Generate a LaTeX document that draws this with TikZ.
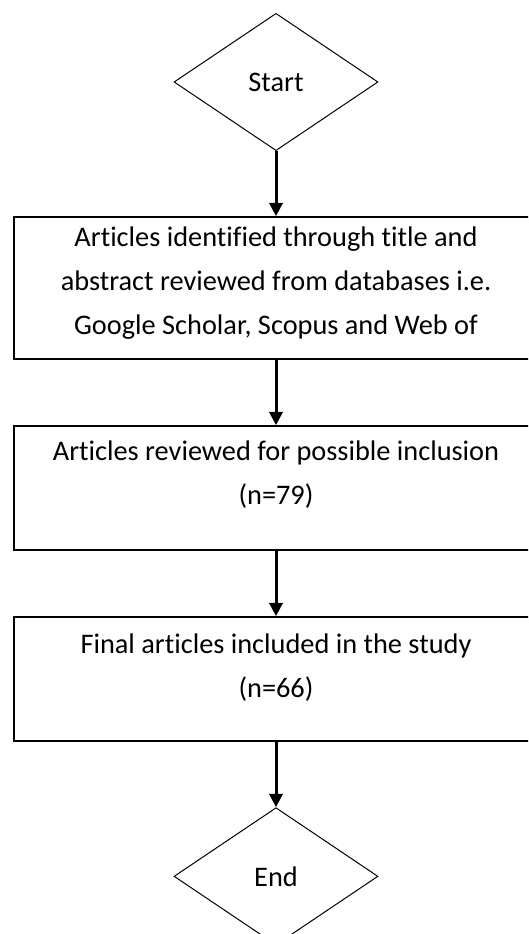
\documentclass[tikz,border=0pt]{standalone}
\usepackage{fontspec}
\setmainfont[Ligatures=NoCommon]{Carlito}
\usetikzlibrary{chains,shapes.geometric,arrows.meta}

\begin{document}
\begin{tikzpicture}[x=0.75pt,y=0.75pt]
% \tikzstyle{every path}=[thick]

\tikzstyle{flowterm}=[diamond,draw,line width=0.75pt,minimum width=153pt,
minimum height=103pt,inner sep=0pt]
\tikzstyle{flowbox}=[draw,line width=1.5pt,minimum width=393pt,align=center,
inner sep=0pt]
\tikzstyle{flowarrow}=[-{Triangle[length=10pt,width=10pt]},line width=2.25pt]

\fontsize{21.25}{33}\selectfont

\useasboundingbox (0,0) rectangle (528,934);
\clip (0,0) rectangle (528,934);

%% Draw the steps of the review
\begin{scope}[start chain=1 going below,node distance=48.75pt]
    \node [on chain=1,flowterm] at (276,852) (start) {Start};
    \node [on chain=1,flowbox,text height=87.75pt,text depth=18.75pt] (ident)
        {Articles identified through title and\\
         abstract reviewed from databases i.e.\\
         Google Scholar, Scopus and Web of};
    \node [on chain=1,flowbox,text height=58.5pt,text depth=34.5pt] (review)
        {Articles reviewed for possible inclusion\\(n=79)};
    \node [on chain=1,flowbox,text height=60pt,text depth=33pt] (final)
        {Final articles included in the study\\(n=66)};
    \node [on chain=1,flowterm] (finish) {End};
\end{scope}

\draw[flowarrow] (start) -- (ident);
\draw[flowarrow] (ident) -- (review);
\draw[flowarrow] (review) -- (final);
\draw[flowarrow] (final) -- (finish);

\end{tikzpicture}
\end{document}
